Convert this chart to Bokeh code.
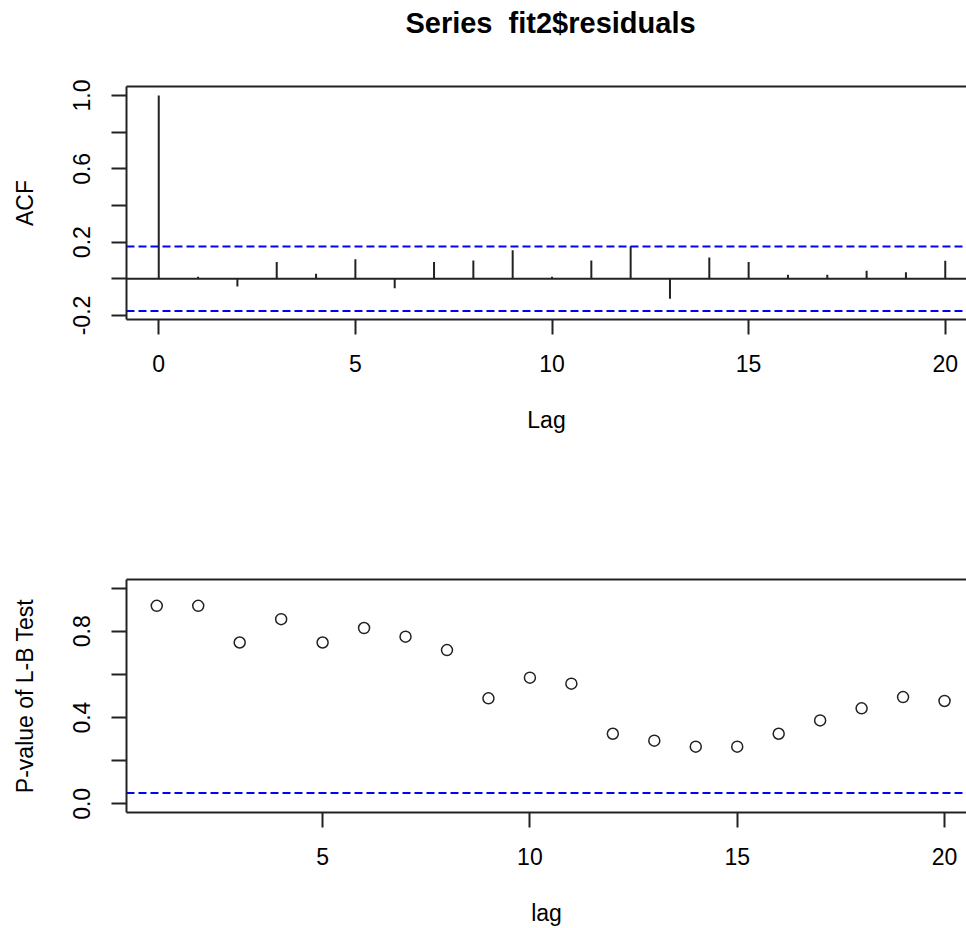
from bokeh.plotting import figure
from bokeh.models import LinearAxis, FixedTicker, Span, Range1d, ColumnDataSource, Label
from bokeh.layouts import column
from bokeh.embed import file_html
from bokeh.resources import INLINE

# ---- data ----
title_text = "Series\u00a0 fit2$residuals"
acf_lags = list(range(0, 21))
acf_values = [1.0, 0.011, -0.042, 0.091, 0.027, 0.107, -0.051, 0.091, 0.100, 0.156, 0.011,
              0.100, 0.178, -0.109, 0.116, 0.091, 0.022, 0.022, 0.044, 0.036, 0.098]
acf_ci = 0.176
acf_yticks = [-0.2, 0.0, 0.2, 0.4, 0.6, 0.8, 1.0]
acf_ylabels = {-0.2: "-0.2", 0.0: "", 0.2: "0.2", 0.4: "", 0.6: "0.6", 0.8: "", 1.0: "1.0"}
acf_xticks = [0, 5, 10, 15, 20]

lb_lags = list(range(1, 21))
lb_pvalues = [0.918, 0.918, 0.748, 0.856, 0.748, 0.815, 0.775, 0.713, 0.489, 0.585,
              0.557, 0.325, 0.293, 0.265, 0.265, 0.325, 0.387, 0.443, 0.495, 0.477]
lb_level = 0.05
lb_yticks = [0.0, 0.2, 0.4, 0.6, 0.8, 1.0]
lb_ylabels = {0.0: "0.0", 0.2: "", 0.4: "0.4", 0.6: "", 0.8: "0.8", 1.0: ""}
lb_xticks = [5, 10, 15, 20]

FONT = "Liberation Sans"
FS = "23px"
LINE = "#222222"
BLUE = "#0000FF"
W = 966
LEFT = 126
TITLE_H = 60


def style_axes(p, xticks, yticks, ylabels, xlabel, ylabel):
    left = LinearAxis(ticker=FixedTicker(ticks=yticks), axis_label=ylabel)
    below = LinearAxis(ticker=FixedTicker(ticks=xticks), axis_label=xlabel)
    above = LinearAxis(ticker=FixedTicker(ticks=[]))
    for ax in (left, below, above):
        ax.axis_line_color = LINE
        ax.axis_line_width = 2
        ax.major_tick_line_color = LINE
        ax.major_tick_line_width = 2
        ax.major_tick_out = 15
        ax.major_tick_in = 0
        ax.minor_tick_line_color = None
        ax.major_label_text_font = FONT
        ax.major_label_text_font_size = FS
        ax.major_label_text_color = "black"
        ax.axis_label_text_font = FONT
        ax.axis_label_text_font_size = FS
        ax.axis_label_text_font_style = "normal"
        ax.axis_label_text_color = "black"
    left.major_label_overrides = ylabels
    left.major_label_orientation = "parallel"
    left.major_label_standoff = 21
    left.axis_label_standoff = 33
    below.major_label_standoff = 20
    below.axis_label_standoff = 32
    p.add_layout(left, "left")
    p.add_layout(below, "below")
    p.add_layout(above, "above")


# ---- title strip (frame aligned with the panels below; x range in pixels) ----
pt = figure(width=W, height=TITLE_H, output_backend="svg", toolbar_location=None,
            x_range=Range1d(LEFT, W), y_range=Range1d(0, TITLE_H),
            x_axis_location=None, y_axis_location=None,
            min_border_left=LEFT, min_border_right=0, min_border_top=0, min_border_bottom=0)
pt.outline_line_color = None
pt.xgrid.visible = False
pt.ygrid.visible = False
pt.add_layout(Label(x=550, y=TITLE_H - 22, text=title_text, text_align="center",
                    text_baseline="middle", text_font=FONT, text_font_size="29px",
                    text_font_style="bold", text_color="black"))

# ---- top: ACF ----
p1 = figure(width=W, height=464 - TITLE_H, output_backend="svg", toolbar_location=None,
            x_range=Range1d(-0.82, 20.54), y_range=Range1d(-0.222, 1.049),
            x_axis_location=None, y_axis_location=None,
            min_border_left=LEFT, min_border_right=0, min_border_top=86 - TITLE_H,
            min_border_bottom=145)
p1.outline_line_color = None
p1.xgrid.visible = False
p1.ygrid.visible = False
style_axes(p1, acf_xticks, acf_yticks, acf_ylabels, "Lag", "ACF")

src1 = ColumnDataSource(dict(lag=acf_lags, acf=acf_values, zero=[0.0] * len(acf_lags)))
p1.segment(x0="lag", y0="zero", x1="lag", y1="acf", source=src1, line_color=LINE, line_width=2)
p1.add_layout(Span(location=0, dimension="width", line_color=LINE, line_width=2))
for lvl in (acf_ci, -acf_ci):
    p1.add_layout(Span(location=lvl, dimension="width", line_color=BLUE, line_width=2,
                       line_dash="8 4"))

# ---- bottom: Ljung-Box p-values ----
p2 = figure(width=W, height=464, output_backend="svg", toolbar_location=None,
            x_range=Range1d(0.27, 20.53), y_range=Range1d(-0.04, 1.04),
            x_axis_location=None, y_axis_location=None,
            min_border_left=LEFT, min_border_right=0, min_border_top=115, min_border_bottom=115)
p2.outline_line_color = None
p2.xgrid.visible = False
p2.ygrid.visible = False
style_axes(p2, lb_xticks, lb_yticks, lb_ylabels, "lag", "P-value of L-B Test")

src2 = ColumnDataSource(dict(lag=lb_lags, p=lb_pvalues))
p2.scatter(x="lag", y="p", source=src2, size=11, marker="circle", fill_color=None,
           line_color=LINE, line_width=1.5)
p2.add_layout(Span(location=lb_level, dimension="width", line_color=BLUE, line_width=2,
                   line_dash="8 4"))

layout = column(pt, p1, p2, spacing=0)
open("out.html", "w").write(file_html(layout, INLINE))
